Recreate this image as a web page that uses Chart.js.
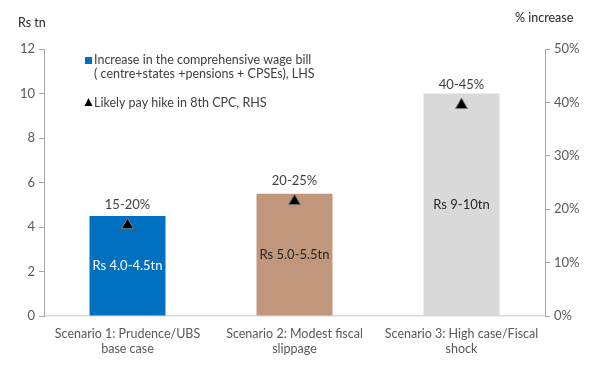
<!DOCTYPE html>
<html>
<head>
<meta charset="utf-8">
<script src="https://cdn.jsdelivr.net/npm/chart.js@4/dist/chart.umd.min.js"></script>
<style>
  body { margin: 0; background: #fff; }
  #wrap { width: 602px; height: 369px; position: relative; }
</style>
</head>
<body>
<div id="wrap"><canvas id="chart"></canvas></div>
<script>
// chart data
const scenarios = [
    ['Scenario 1: Prudence/UBS', 'base case'],
    ['Scenario 2: Modest fiscal', 'slippage'],
    ['Scenario 3: High case/Fiscal', 'shock']
];
const wageBill = [4.5, 5.5, 10];
const payHike = [17, 21.5, 39.5];
const barLabels = ['Rs 4.0-4.5tn', 'Rs 5.0-5.5tn', 'Rs 9-10tn'];
const hikeLabels = ['15-20%', '20-25%', '40-45%'];
const barColors = ['#0070c0', '#c0977a', '#d9d9d9'];
const barTextColors = ['#ffffff', '#262626', '#262626'];
const legendBar = ['Increase in the comprehensive wage bill', '( centre+states +pensions + CPSEs), LHS'];
const legendHike = 'Likely pay hike in 8th CPC, RHS';

const FONT = 'Lato, "Open Sans", sans-serif';

// draws the axis titles, in-bar labels, marker labels and the legend
const extras = {
    id: 'extras',
    afterDatasetsDraw(chart) {
        const ctx = chart.ctx;
        ctx.save();
        ctx.font = '12.5px ' + FONT;
        ctx.textBaseline = 'middle';

        // axis titles
        ctx.fillStyle = '#262626';
        ctx.textAlign = 'left';
        ctx.fillText('Rs tn', 18, 23);
        ctx.fillText('% increase', 515, 18);

        // labels inside bars
        ctx.font = '13px ' + FONT;
        ctx.textAlign = 'center';
        chart.getDatasetMeta(0).data.forEach((bar, i) => {
            ctx.fillStyle = barTextColors[i];
            ctx.fillText(barLabels[i], bar.x, (bar.y + bar.base) / 2);
        });

        // labels above triangles
        ctx.fillStyle = '#404040';
        chart.getDatasetMeta(1).data.forEach((pt, i) => {
            ctx.fillText(hikeLabels[i], pt.x, pt.y - 20);
        });

        // legend
        ctx.font = '12.5px ' + FONT;
        ctx.textAlign = 'left';
        ctx.fillStyle = '#404040';
        ctx.fillText(legendBar[0], 94, 60);
        ctx.fillText(legendBar[1], 94, 74);
        ctx.fillText(legendHike, 94, 103);
        ctx.fillStyle = barColors[0];
        ctx.fillRect(85, 57, 7, 7);
        ctx.fillStyle = '#000';
        ctx.beginPath();
        ctx.moveTo(88.5, 98);
        ctx.lineTo(92.5, 106);
        ctx.lineTo(84.5, 106);
        ctx.closePath();
        ctx.fill();
        ctx.restore();
    }
};

new Chart(document.getElementById('chart'), {
    data: {
        labels: scenarios,
        datasets: [{
            type: 'bar',
            label: legendBar.join(' '),
            data: wageBill,
            backgroundColor: barColors,
            barPercentage: 0.455,
            categoryPercentage: 1,
            yAxisID: 'y',
            order: 2
        }, {
            type: 'line',
            label: legendHike,
            data: payHike,
            showLine: false,
            pointStyle: 'triangle',
            pointRadius: 7,
            pointBackgroundColor: '#000',
            pointBorderColor: '#7f7f7f',
            pointBorderWidth: 1,
            yAxisID: 'y1',
            order: 1
        }]
    },
    options: {
        responsive: true,
        maintainAspectRatio: false,
        animation: false,
        layout: { padding: { top: 49 } },
        plugins: {
            legend: { display: false },
            tooltip: { enabled: false }
        },
        scales: {
            x: {
                offset: true,
                grid: { drawOnChartArea: false, drawTicks: false },
                border: { color: '#d9d9d9', width: 1.5 },
                ticks: { color: '#595959', font: { family: FONT, size: 12.5 }, padding: 10, maxRotation: 0 },
                afterFit: s => { s.height = 53; }
            },
            y: {
                position: 'left',
                min: 0,
                max: 12,
                ticks: { stepSize: 2, color: '#595959', font: { family: FONT, size: 13 }, padding: 4 },
                grid: { drawOnChartArea: false, tickLength: 5, color: '#a6a6a6' },
                border: { color: '#a6a6a6' },
                afterFit: s => { s.width = 44; }
            },
            y1: {
                position: 'right',
                min: 0,
                max: 50,
                ticks: { stepSize: 10, color: '#595959', font: { family: FONT, size: 13 }, padding: 4,
                    callback: v => v + '%' },
                grid: { drawOnChartArea: false, tickLength: 5, color: '#a6a6a6' },
                border: { color: '#a6a6a6' },
                afterFit: s => { s.width = 57; }
            }
        }
    },
    plugins: [extras]
});
</script>
</body>
</html>
